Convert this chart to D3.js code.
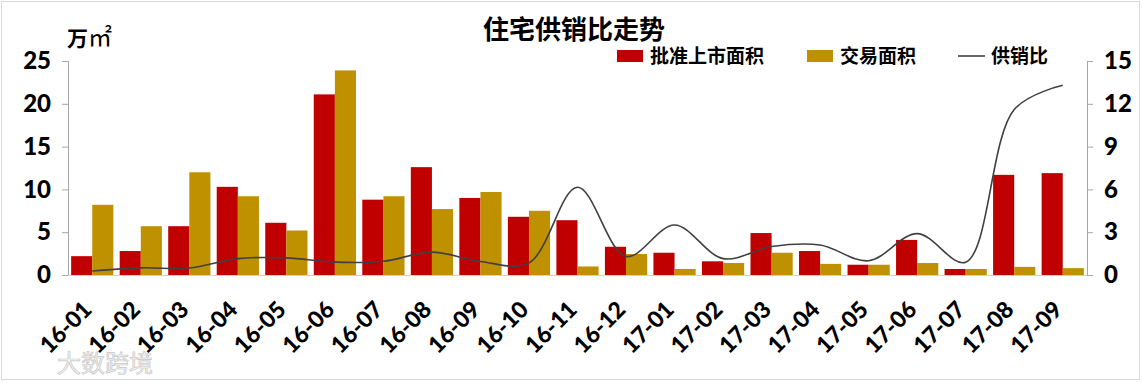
<!DOCTYPE html>
<html><head><meta charset="utf-8">
<script src="https://cdn.jsdelivr.net/npm/d3@7"></script>
<style>body{margin:0;background:#fff}svg{display:block}</style>
</head><body><svg id="c" width="1142" height="383"></svg>
<script>
const categories = ["16-01","16-02","16-03","16-04","16-05","16-06","16-07","16-08","16-09","16-10","16-11","16-12","17-01","17-02","17-03","17-04","17-05","17-06","17-07","17-08","17-09"];
const approvedArea = [2.2,2.8,5.7,10.3,6.1,21.1,8.8,12.6,9.0,6.8,6.4,3.3,2.6,1.6,4.9,2.8,1.2,4.1,0.7,11.7,11.9];
const tradedArea   = [8.2,5.7,12.0,9.2,5.2,23.9,9.2,7.7,9.7,7.5,1.0,2.45,0.7,1.4,2.6,1.3,1.2,1.4,0.7,0.95,0.8];
const ratio        = [0.28,0.5,0.49,1.15,1.2,0.9,0.96,1.6,0.95,0.85,6.15,1.3,3.5,1.15,2.0,2.1,1.0,2.9,0.9,11.6,13.3];
const leftTicks = [0,5,10,15,20,25];
const rightTicks = [0,3,6,9,12,15];
const seriesNames = ["批准上市面积","交易面积","供销比"];
const colors = ["#C00000","#BF9000","#404040"];

const svg = d3.select("#c");
const X0 = 68, X1 = 1087, YT = 61, YB = 275;
svg.append("rect").attr("x",1.5).attr("y",1.5).attr("width",1138).attr("height",378)
  .attr("fill","#fff").attr("stroke","#d9d9d9");

const x = d3.scaleBand().domain(categories).range([X0,X1]).paddingInner(0.13).paddingOuter(0.065);
const xs = d3.scaleBand().domain([0,1]).range([0,x.bandwidth()]);
const yL = d3.scaleLinear().domain([0,25]).range([YB,YT]);
const yR = d3.scaleLinear().domain([0,15]).range([YB,YT]);
const xc = d3.scalePoint().domain(categories).range([X0,X1]).padding(0.5);

// bars
[approvedArea, tradedArea].forEach((arr,si)=>{
  svg.append("g").selectAll("rect").data(arr).join("rect")
    .attr("x",(d,i)=>x(categories[i])+xs(si))
    .attr("width",xs.bandwidth())
    .attr("y",d=>yL(d)).attr("height",d=>YB-yL(d))
    .attr("fill",colors[si]);
});

// axes
const font = "Lato, 'Noto Sans', sans-serif";
const gL = svg.append("g").attr("transform",`translate(${X0},0)`)
  .call(d3.axisLeft(yL).tickValues(leftTicks).tickSize(6).tickPadding(11));
const gR = svg.append("g").attr("transform",`translate(${X1},0)`)
  .call(d3.axisRight(yR).tickValues(rightTicks).tickSize(6).tickPadding(11));
[gL,gR].forEach(g=>{
  g.select(".domain").attr("stroke","#a6a6a6");
  g.selectAll(".tick line").attr("stroke","#a6a6a6");
  g.selectAll(".tick text").attr("fill","#000").style("font-family",font)
   .style("font-weight","900").style("font-size","24px");
});
svg.append("line").attr("x1",X0).attr("x2",X1).attr("y1",YB+0.5).attr("y2",YB+0.5).attr("stroke","#d0d0d0");

// x labels
svg.append("g").selectAll("text").data(categories).join("text")
  .attr("transform",d=>`translate(${xc(d)+1},${YB+36}) rotate(-45)`)
  .attr("text-anchor","end")
  .style("font-family",font).style("font-weight","900").style("font-size","23px")
  .text(d=>d);

// ratio line
const line = d3.line().x((d,i)=>xc(categories[i])).y(d=>yR(d)).curve(d3.curveCatmullRom.alpha(0.5));
svg.append("path").datum(ratio).attr("d",line).attr("fill","none")
  .attr("stroke",colors[2]).attr("stroke-width",1.6);

// title
const cjk = "'Noto Sans CJK SC', sans-serif";
svg.append("text").attr("x",574).attr("y",39).attr("text-anchor","middle")
  .style("font-family",cjk).style("font-weight","700").style("font-size","26px").text("住宅供销比走势");

// unit
const u = svg.append("text").attr("x",67).attr("y",46).style("font-family",cjk).style("font-weight","700").style("font-size","21px");
u.append("tspan").text("万");
u.append("tspan").style("font-weight","400").style("font-size","24px").text("㎡");

// legend
const lg = svg.append("g");
const legItems = [{x:617,type:"rect"},{x:807,type:"rect"},{x:958,type:"line"}];
legItems.forEach((it,i)=>{
  if(it.type==="rect") lg.append("rect").attr("x",it.x).attr("y",50).attr("width",26).attr("height",12).attr("fill",colors[i]);
  else lg.append("line").attr("x1",it.x).attr("x2",it.x+27).attr("y1",56).attr("y2",56).attr("stroke",colors[2]).attr("stroke-width",1.6);
  lg.append("text").attr("x",it.x+33).attr("y",63).style("font-family",cjk).style("font-weight","700").style("font-size","19px").text(seriesNames[i]);
});

// watermark
svg.append("text").attr("x",57).attr("y",372).style("font-family",cjk).style("font-size","24px")
  .attr("fill","#f2f2f2").attr("stroke","#c8c8c8").attr("stroke-width",0.7).text("大数跨境");
</script></body></html>
